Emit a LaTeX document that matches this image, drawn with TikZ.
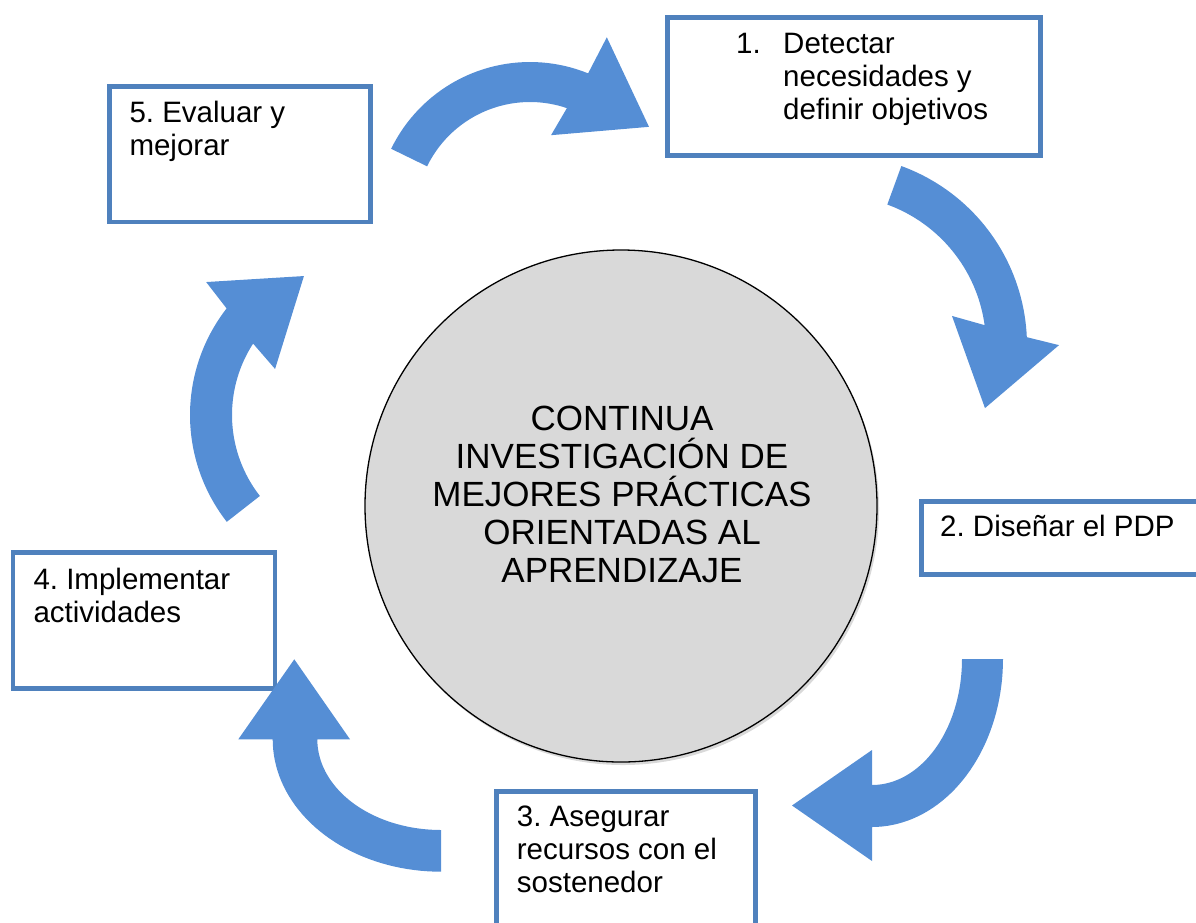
\documentclass[tikz,border=0pt]{standalone}
\usepackage{fontspec}
\setmainfont{Liberation Sans}
\frenchspacing
\usetikzlibrary{positioning,shadows}

\definecolor{boxblue}{RGB}{79,129,189}
\definecolor{arrowblue}{RGB}{85,142,213}
\definecolor{hubgray}{RGB}{217,217,217}

\tikzset{
  stepbox/.style={draw=boxblue, line width=4.5pt, fill=white, rectangle, anchor=north west, inner sep=0pt},
  % multi-line nodes: base = baseline of the last line
  steptext/.style={anchor=base west, align=left, inner sep=0pt, font=\fontsize{29.5}{33}\selectfont},
  flowarrow/.style={fill=arrowblue},
}

\begin{document}
\begin{tikzpicture}[x=1pt, y=-1pt]
        \useasboundingbox (0,0) rectangle (1196,922);
        \clip (0,0) rectangle (1196,922);

        % Central circle
        \node[circle, minimum size=512, draw=black, line width=1.3pt, fill=hubgray,
              drop shadow={shadow xshift=2pt, shadow yshift=-3pt, opacity=0.3}] (hub) at (621,506) {};
        \node[align=center, font=\fontsize{35}{38}\selectfont] (hubtext) at (622,494)
              {CONTINUA\\INVESTIGACIÓN DE\\MEJORES PRÁCTICAS\\ORIENTADAS AL\\APRENDIZAJE};

        % Step boxes
        \node[stepbox, minimum width=373, minimum height=138] (s1) at (665,15) {};
        \node[stepbox, minimum width=300, minimum height=73] (s2) at (919,499) {};
        \node[stepbox, minimum width=259, minimum height=150] (s3) at (494,789) {};
        \node[stepbox, minimum width=262, minimum height=136] (s4) at (10.5,550) {};
        \node[stepbox, minimum width=261, minimum height=135.5] (s5) at (107,84) {};

        % Step texts
        \node[steptext] (t1) at (736,119.3) {\makebox[47pt][l]{1.}Detectar\\\hspace*{47pt}necesidades y\\\hspace*{47pt}definir objetivos};
        \node[steptext] (t2) at (940,536.7) {2. Diseñar el PDP};
        \node[steptext] (t3) at (516.7,892.7) {3. Asegurar\\recursos con el\\sostenedor};
        \node[steptext] (t4) at (33.3,622) {4. Implementar\\actividades};
        \node[steptext] (t5) at (129.3,155.7) {5. Evaluar y\\mejorar};

        % Arrow 5 -> 1 (top)
        \begin{scope}[shift={(530,216.5)}]
            \fill[flowarrow] plot[domain=206:292.1, samples=40] ({154.5*cos(\x)},{154.5*sin(\x)})
                -- (293.2:195) -- (323:149) -- (284.5:84) -- (288.8:114.5)
                -- plot[domain=288.8:206, samples=40] ({114.5*cos(\x)},{114.5*sin(\x)}) -- cycle;
        \end{scope}

        % Arrow 1 -> 2 (right, top)
        \begin{scope}[shift={(836,345.5)}]
            \fill[flowarrow] plot[domain=-70:-2.5, samples=40] ({191*cos(\x)},{191*sin(\x)})
                -- (-0.1:223) -- (22.8:161.6) -- (-14.3:119.7) -- (-7.8:150)
                -- plot[domain=-7.8:-70, samples=40] ({150*cos(\x)},{150*sin(\x)}) -- cycle;
        \end{scope}

        % Arrow 2 -> 3 (right, bottom)
        \begin{scope}[shift={(872,659)}]
            \fill[flowarrow] plot[domain=0:90, samples=40] ({131*cos(\x)},{168*sin(\x)})
                -- (0,202) -- (-80,146.5) -- (0,91) -- (0,126)
                -- plot[domain=90:0, samples=40] ({90*cos(\x)},{126*sin(\x)}) -- cycle;
        \end{scope}

        % Arrow 3 -> 4 (bottom left)
        \begin{scope}[shift={(441,739.3)}]
            \fill[flowarrow] plot[domain=90:180, samples=40] ({168.3*cos(\x)},{132.4*sin(\x)})
                -- (-202.7,0) -- (-146.7,-80) -- (-91,0) -- (-123.7,0)
                -- plot[domain=180:90, samples=40] ({123.7*cos(\x)},{90.7*sin(\x)}) -- cycle;
        \end{scope}

        % Arrow 4 -> 5 (left)
        \begin{scope}[shift={(363.5,415)}]
            \fill[flowarrow] plot[domain=142:217.9, samples=40] ({173.5*cos(\x)},{173.5*sin(\x)})
                -- (220.2:206) -- (246.8:151.2) -- (207.5:99.7) -- (212.9:131.5)
                -- plot[domain=212.9:142, samples=40] ({131.5*cos(\x)},{131.5*sin(\x)}) -- cycle;
        \end{scope}
\end{tikzpicture}
\end{document}
